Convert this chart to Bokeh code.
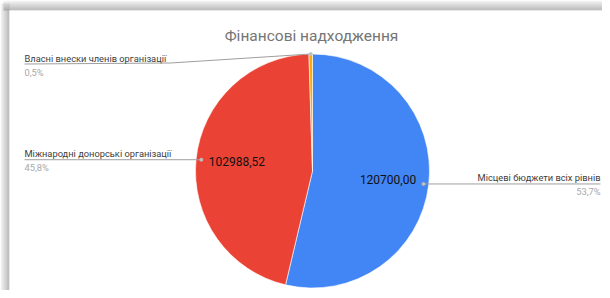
import math
from bokeh.plotting import figure
from bokeh.models import Range1d, ColumnDataSource
from bokeh.core.properties import value
from bokeh.embed import file_html
from bokeh.resources import INLINE

# ---- data ----
title_text = "Фінансові надходження"
categories = ["Місцеві бюджети всіх рівнів",
              "Міжнародні донорські організації",
              "Власні внески членів організації"]
values = [120700.00, 102988.52, 1080.00]
colors = ["#4285F4", "#EA4335", "#F9AB0B"]

# ---- layout (figure pixel space, y up) ----
W, H = 602, 290
CX, CY, R = 312, 119.5, 117
FONT = "Roboto"

total = sum(values)
fracs = [v / total for v in values]

def fmt_val(v):
    return f"{v:.2f}".replace(".", ",")

def fmt_pct(f):
    return f"{f*100:.1f}".replace(".", ",") + "%"

starts, ends, mids = [], [], []
acc = 0.0
for f in fracs:
    s = acc
    e = acc + f
    starts.append(math.pi / 2 - 2 * math.pi * s)
    ends.append(math.pi / 2 - 2 * math.pi * e)
    mids.append(2 * math.pi * (s + e) / 2)  # clockwise from top
    acc = e

p = figure(width=W, height=H, output_backend="svg", toolbar_location=None,
           x_range=Range1d(0, W), y_range=Range1d(0, H), min_border=0,
           background_fill_color="white", border_fill_color="white")
p.axis.visible = False
p.grid.visible = False
p.outline_line_color = None

# card shadow (decoration): gradient strips on left and top edges
def grey(t):
    g = int(round(250 - t * 85))
    return "#%02x%02x%02x" % (g, g, g)

NL, NT = 9, 10
lq = dict(left=[i for i in range(NL)], right=[i + 1 for i in range(NL)],
          top=[H - 3 - (NL - i) * 0.0 for i in range(NL)], bottom=[0] * NL,
          color=[grey((i + 1) / NL) for i in range(NL)])
p.quad(left="left", right="right", top="top", bottom="bottom",
       fill_color="color", line_color=None, source=ColumnDataSource(lq))
tq = dict(left=[3] * NT, right=[W] * NT,
          top=[H - i for i in range(NT)], bottom=[H - i - 1 for i in range(NT)],
          color=[grey((i + 1) / NT) for i in range(NT)])
p.quad(left="left", right="right", top="top", bottom="bottom",
       fill_color="color", line_color=None, source=ColumnDataSource(tq))
p.quad(left=[NL], right=[W], top=[H - NT], bottom=[0],
       fill_color="white", line_color=None)

src = ColumnDataSource(dict(start=starts, end=ends, color=colors,
                            x=[CX] * 3, y=[CY] * 3))
p.wedge(x="x", y="y", radius=R, start_angle="start", end_angle="end",
        direction="clock", fill_color="color", line_color="white",
        line_width=0.6, source=src)

# title
p.text(x=[311], y=[255], text=[title_text], text_font=value(FONT),
       text_font_size="15.5px", text_color="#757575", text_align="center",
       text_baseline="middle")

# value labels inside big slices
VAL_K = 0.65
for i, v in enumerate(values):
    if fracs[i] < 0.05:
        continue
    th = mids[i]
    x = CX + VAL_K * R * math.sin(th)
    y = CY + VAL_K * R * math.cos(th) + (0 if math.sin(th) > 0 else 2)
    p.text(x=[x], y=[y], text=[fmt_val(v)], text_font=value(FONT),
           text_font_size="12px", text_color="#111111", text_align="center",
           text_baseline="middle", text_font_style="normal")

# leader lines and outside labels
LEADER_K = [0.955, 0.955, 1.0]
LEFT_X, RIGHT_X = 24, 600
for i, cat in enumerate(categories):
    th = mids[i]
    ax = CX + LEADER_K[i] * R * math.sin(th)
    ay = CY + LEADER_K[i] * R * math.cos(th)
    right = math.sin(th) > 0.05
    if fracs[i] < 0.05:
        ly = ay - 10
        xs = [ax, 170, LEFT_X]
        ys = [ay, ly + 1, ly]
        tx, align = LEFT_X, "left"
    else:
        ly = ay
        if right:
            xs, ys = [ax, RIGHT_X], [ay, ay]
            tx, align = RIGHT_X, "right"
        else:
            xs, ys = [ax, LEFT_X], [ay, ay]
            tx, align = LEFT_X, "left"
    p.line(xs, ys, line_color="#9e9e9e", line_width=1)
    p.scatter([ax], [ay], size=3, color="#c0c0c0")
    p.text(x=[tx], y=[ly + 6], text=[cat], text_font=value(FONT),
           text_font_size="9.3px", text_color="#3c3c3c", text_align=align,
           text_baseline="middle")
    p.text(x=[tx], y=[ly - 8], text=[fmt_pct(fracs[i])], text_font=value(FONT),
           text_font_size="9.3px", text_color="#a8a8a8", text_align=align,
           text_baseline="middle")

open("out.html", "w").write(file_html(p, INLINE))
